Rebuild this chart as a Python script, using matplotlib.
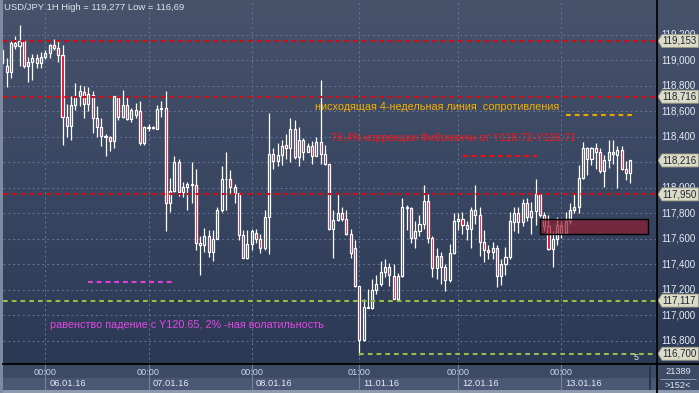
import matplotlib
matplotlib.use("Agg")
import matplotlib.pyplot as plt
import numpy as np
from matplotlib.patches import Rectangle, Polygon
from matplotlib.colors import LinearSegmentedColormap
from matplotlib.lines import Line2D

plt.rcParams['font.family'] = ['Liberation Sans', 'DejaVu Sans']

# ---------------- data ----------------
title_text = "USD/JPY 1H High = 119,277 Low = 116,69"

candle_idx = list(range(-1, 146))
opens = [118.98, 118.96, 118.91, 119.14, 119.11, 119.15, 118.96, 118.99, 119.02, 118.98,
         119.03, 119.06, 119.12, 119.10, 119.04, 118.56, 118.49, 118.65, 118.72, 118.75,
         118.66, 118.73, 118.55, 118.48, 118.41, 118.40, 118.37, 118.72, 118.56, 118.65,
         118.54, 118.57, 118.60, 118.35, 118.48, 118.47, 118.46, 118.62, 118.63, 117.88,
         117.98, 118.20, 117.97, 118.01, 118.02, 118.02, 117.57, 117.55, 117.62, 117.50,
         117.60, 117.83, 118.07, 118.07, 118.01, 117.96, 117.63, 117.45, 117.56, 117.65,
         117.60, 117.53, 117.77, 118.27, 118.21, 118.26, 118.34, 118.31, 118.46, 118.24,
         118.38, 118.28, 118.33, 118.25, 118.36, 118.27, 118.19, 117.68, 117.75, 117.80,
         117.76, 117.64, 117.53, 117.23, 116.81, 117.06, 117.06, 117.20, 117.25, 117.34,
         117.38, 117.31, 117.13, 117.31, 117.84, 117.84, 117.61, 117.66, 117.72, 117.90,
         117.61, 117.37, 117.47, 117.38, 117.28, 117.49, 117.74, 117.76, 117.71, 117.68,
         117.83, 117.79, 117.58, 117.51, 117.50, 117.53, 117.31, 117.40, 117.46, 117.73,
         117.80, 117.73, 117.88, 117.77, 117.82, 117.95, 117.79, 117.70, 117.52, 117.60,
         117.71, 117.65, 117.74, 117.83, 117.85, 118.08, 118.31, 118.23, 118.31, 118.28,
         118.13, 118.22, 118.27, 118.26, 118.30, 118.15, 118.12]
highs = [119.12, 119.02, 119.15, 119.19, 119.277, 119.16, 119.03, 119.05, 119.05, 119.07,
         119.08, 119.13, 119.17, 119.16, 119.12, 118.66, 118.72, 118.82, 118.81, 118.80,
         118.79, 118.76, 118.64, 118.55, 118.42, 118.41, 118.72, 118.72, 118.77, 118.72,
         118.63, 118.67, 118.68, 118.49, 118.50, 118.49, 118.65, 118.68, 118.76, 118.08,
         118.25, 118.23, 118.05, 118.05, 118.20, 118.15, 117.62, 117.69, 117.67, 117.67,
         117.85, 118.17, 118.28, 118.14, 118.03, 117.96, 117.67, 117.67, 117.68, 117.68,
         117.64, 117.83, 118.59, 118.31, 118.35, 118.38, 118.42, 118.55, 118.53, 118.48,
         118.39, 118.35, 118.37, 118.40, 118.85, 118.34, 118.19, 117.83, 117.95, 117.85,
         117.83, 117.68, 117.59, 117.23, 117.13, 117.21, 117.29, 117.32, 117.43, 117.44,
         117.41, 117.40, 117.33, 117.92, 117.87, 117.85, 117.74, 117.79, 118.02, 117.95,
         117.62, 117.53, 117.50, 117.40, 117.56, 117.80, 117.80, 117.81, 117.74, 117.85,
         118.02, 117.85, 117.67, 117.55, 117.58, 117.55, 117.44, 117.54, 117.81, 117.85,
         117.85, 117.91, 117.92, 117.89, 118.07, 117.96, 117.81, 117.79, 117.66, 117.77,
         117.74, 117.81, 117.88, 117.96, 118.18, 118.36, 118.32, 118.32, 118.35, 118.31,
         118.26, 118.38, 118.38, 118.33, 118.33, 118.21, 118.22]
lows = [118.95, 118.79, 118.86, 119.09, 118.96, 118.94, 118.83, 118.85, 118.94, 118.94,
        119.01, 119.02, 119.08, 118.99, 118.34, 118.40, 118.38, 118.61, 118.64, 118.55,
        118.60, 118.43, 118.40, 118.33, 118.25, 118.29, 118.31, 118.53, 118.55, 118.53,
        118.52, 118.55, 118.34, 118.34, 118.45, 118.46, 118.46, 118.56, 117.66, 117.81,
        117.97, 117.94, 117.93, 117.83, 117.88, 117.51, 117.32, 117.50, 117.46, 117.43,
        117.60, 117.81, 117.83, 117.95, 117.88, 117.59, 117.45, 117.44, 117.51, 117.57,
        117.49, 117.51, 117.48, 118.15, 118.17, 118.18, 118.23, 118.20, 118.23, 118.17,
        118.22, 118.28, 118.19, 118.25, 118.19, 118.18, 117.67, 117.45, 117.74, 117.74,
        117.63, 117.45, 117.22, 116.69, 116.80, 117.06, 117.05, 117.17, 117.23, 117.30,
        117.23, 117.13, 117.13, 117.30, 117.67, 117.57, 117.53, 117.62, 117.68, 117.57,
        117.30, 117.29, 117.25, 117.19, 117.26, 117.48, 117.67, 117.64, 117.59, 117.53,
        117.72, 117.47, 117.42, 117.44, 117.44, 117.22, 117.24, 117.32, 117.44, 117.66,
        117.65, 117.70, 117.74, 117.64, 117.71, 117.77, 117.66, 117.51, 117.38, 117.55,
        117.61, 117.64, 117.72, 117.80, 117.80, 118.07, 118.10, 118.18, 118.15, 118.12,
        118.01, 118.16, 118.19, 118.00, 118.14, 118.06, 118.04]
closes = [119.08, 118.91, 119.14, 119.11, 119.15, 118.96, 118.99, 119.02, 118.98, 119.03,
          119.06, 119.12, 119.10, 119.04, 118.56, 118.49, 118.65, 118.72, 118.76, 118.66,
          118.74, 118.55, 118.48, 118.41, 118.40, 118.37, 118.72, 118.56, 118.65, 118.54,
          118.61, 118.61, 118.35, 118.48, 118.47, 118.48, 118.62, 118.63, 117.88, 117.98,
          118.20, 117.97, 118.01, 118.03, 118.03, 117.57, 117.55, 117.62, 117.50, 117.60,
          117.83, 118.07, 118.07, 118.01, 117.96, 117.63, 117.45, 117.56, 117.66, 117.60,
          117.53, 117.77, 118.27, 118.21, 118.26, 118.33, 118.31, 118.46, 118.24, 118.38,
          118.28, 118.33, 118.25, 118.36, 118.27, 118.19, 117.68, 117.75, 117.80, 117.76,
          117.64, 117.49, 117.23, 116.81, 117.07, 117.07, 117.20, 117.25, 117.34, 117.38,
          117.32, 117.13, 117.31, 117.85, 117.85, 117.61, 117.66, 117.72, 117.90, 117.61,
          117.37, 117.47, 117.38, 117.28, 117.49, 117.74, 117.76, 117.71, 117.68, 117.83,
          117.79, 117.58, 117.51, 117.50, 117.53, 117.31, 117.40, 117.46, 117.74, 117.80,
          117.73, 117.88, 117.77, 117.82, 117.95, 117.79, 117.70, 117.52, 117.60, 117.71,
          117.65, 117.74, 117.83, 117.85, 118.08, 118.31, 118.23, 118.31, 118.28, 118.13,
          118.22, 118.28, 118.28, 118.30, 118.15, 118.12, 118.216]

tick_prices = [116.8, 117.0, 117.2, 117.4, 117.6, 117.8, 118.0, 118.2, 118.4, 118.6,
               118.8, 119.0, 119.2]
day_idx = [9, 33, 57, 82, 105, 129]
time_labels = ["00:00", "00:00", "00:00", "01:00", "00:00", "00:00"]
date_labels = ["06.01.16", "07.01.16", "08.01.16", "11.01.16", "12.01.16", "13.01.16"]

red_levels = [119.153, 118.716, 117.950]
green_levels = [117.117, 116.700]
resist_level = 118.573
fib_level = 118.251
equality_level = 117.265
zone_low, zone_high = 117.637, 117.754

txt_resist = "нисходящая 4-недельная линия  сопротивления"
txt_fib = "76,4% коррекции Фибоначчи от Y118.72-Y116.71"
txt_equal = "равенство падение с Y120.65, 2% -ная волатильность"
bars_count = "21389"
bars_shift = ">152<"

# ---------------- layout ----------------
W, H = 699, 393
fig = plt.figure(figsize=(W / 100, H / 100), dpi=100)
fig.patch.set_facecolor('#7e8aa0')

XL = (-0.84, 151.0)
YL = (116.6196, 119.4745)

ax = fig.add_axes([3 / W, 29 / H, 653 / W, 364 / H])
ax.set_xlim(*XL)
ax.set_ylim(*YL)
for s in ax.spines.values():
    s.set_visible(False)
ax.set_xticks([])
ax.set_yticks([])

cmap = LinearSegmentedColormap.from_list('bg', ['#47526b', '#3a4762', '#2b3955'])
grad = np.linspace(0, 1, 256).reshape(-1, 1)
ax.imshow(grad, extent=[XL[0], XL[1], YL[0], YL[1]], aspect='auto', cmap=cmap,
          origin='upper', zorder=0)

grid_kw = dict(color='#66759a', lw=0.7, ls=(0, (2, 3)), zorder=1)
for p in tick_prices:
    ax.axhline(p, **grid_kw)
for d in day_idx:
    ax.axvline(d, **grid_kw)

# candles
x = np.array(candle_idx, dtype=float)
o = np.array(opens); c = np.array(closes); h = np.array(highs); l = np.array(lows)
top = np.maximum(o, c)
bot = np.minimum(o, c)
bull = c >= o
ax.vlines(x, top, h, color='white', lw=0.9, zorder=3)
ax.vlines(x, l, bot, color='white', lw=0.9, zorder=3)
bh = np.maximum(top - bot, 0.004)
ax.bar(x[bull], bh[bull], bottom=bot[bull], width=0.48, facecolor='none',
       edgecolor='white', lw=0.9, zorder=3)
ax.bar(x[~bull], bh[~bull], bottom=bot[~bull], width=0.48, facecolor='#e8002d',
       edgecolor='white', lw=0.9, zorder=3)

# levels
dash = (0, (2.3, 1.9))
for lv in red_levels:
    ax.axhline(lv, color='#c8101a', lw=1.5, ls=dash, zorder=5)
ax.axhline(green_levels[0], color='#8fbf45', lw=1.5, ls=dash, zorder=5)
ax.hlines(green_levels[1], 82, XL[1], color='#8fbf45', lw=1.5, ls=dash, zorder=5)
ax.hlines(resist_level, 130.1, 145.9, color='#e8a800', lw=1.5, ls=dash, zorder=5)
ax.hlines(fib_level, 106.1, 123.4, color='#ee1111', lw=1.5, ls=dash, zorder=5)
ax.hlines(equality_level, 18.9, 38.7, color='#e040e0', lw=1.5, ls=dash, zorder=5)
ax.add_patch(Rectangle((124.0, zone_low), 25.1, zone_high - zone_low,
                       facecolor=(0.55, 0.12, 0.2, 0.7), edgecolor='black', lw=1.0, zorder=6))

def fx(px):
    return px / W

def fy(py):
    return 1 - py / H

ax.text(fx(4), fy(8), title_text, transform=fig.transFigure, color='#dfe5ef',
        fontsize=6.8, va='center', ha='left', zorder=7)
ax.text(fx(315), fy(107.5), txt_resist, transform=fig.transFigure, color='#f5b000',
        fontsize=7.8, va='center', ha='left', zorder=2)
ax.text(fx(331), fy(138), txt_fib, transform=fig.transFigure, color='#ff1414',
        fontsize=7.8, va='center', ha='left', zorder=2)
ax.text(fx(50), fy(325), txt_equal, transform=fig.transFigure, color='#e545e5',
        fontsize=7.8, va='center', ha='left', zorder=2)
ax.text(fx(634), fy(358), "5", transform=fig.transFigure, color='#e8eef8',
        fontsize=6.5, va='center', ha='left', zorder=7)

# price panel
axp = fig.add_axes([657 / W, 29 / H, 42 / W, 364 / H])
axp.set_xlim(0, 42)
axp.set_ylim(*YL)
axp.axis('off')
axp.imshow(grad, extent=[0, 42, YL[0], YL[1]], aspect='auto', cmap=cmap,
           origin='upper', zorder=0)
highlight = red_levels + green_levels + [closes[-1]]
hl = 13 / 127.5
for p in tick_prices:
    # labels fully hidden behind a highlighted price box are not drawn
    if min(abs(p - v) for v in highlight) < 0.03:
        continue
    axp.text(4.5, p, f"{p:.3f}".replace('.', ','), color='#e6ecf5', fontsize=7,
             va='center', ha='left', zorder=2)
for lv in highlight:
    poly = Polygon([(1, lv), (5, lv + hl / 2), (41.5, lv + hl / 2), (41.5, lv - hl / 2),
                    (5, lv - hl / 2)], closed=True, facecolor='#dcdcc6',
                   edgecolor='#9a9a88', lw=0.6, zorder=3)
    axp.add_patch(poly)
    axp.text(5.5, lv, f"{lv:.3f}".replace('.', ','), color='#1c2436', fontsize=7,
             va='center', ha='left', zorder=4)

# time panel
axb = fig.add_axes([3 / W, 0, 653 / W, 29 / H])
axb.set_xlim(*XL)
axb.set_ylim(0, 29)
axb.axis('off')
axb.add_patch(Rectangle((XL[0], 0), XL[1] - XL[0], 29, facecolor='#3d4a64', edgecolor='none'))
axb.add_patch(Rectangle((XL[0], 3), XL[1] - XL[0], 12, facecolor='#4b5874', edgecolor='none'))
axb.add_patch(Rectangle((XL[0], 0), XL[1] - XL[0], 3, facecolor='#8d99ad', edgecolor='none'))
axb.add_patch(Rectangle((149.3, 3), 0.6, 24, facecolor='#2a3548', edgecolor='none'))
for d, t, dl in zip(day_idx, time_labels, date_labels):
    axb.vlines(d, 3, 29, color='#74829c', lw=0.8)
    axb.text(d, 20.5, t, ha='center', va='center', color='#c9d6f2', fontsize=6.6)
    axb.text(d + 0.9, 9, dl, ha='left', va='center', color='#e3e9f3', fontsize=6.7)

# corner panel
axc = fig.add_axes([657 / W, 0, 42 / W, 29 / H])
axc.set_xlim(0, 42)
axc.set_ylim(0, 29)
axc.axis('off')
axc.add_patch(Rectangle((0, 0), 42, 29, facecolor='#3d4a64', edgecolor='none'))
axc.add_patch(Rectangle((0, 0), 42, 3, facecolor='#8d99ad', edgecolor='none'))
axc.hlines(14.5, 3, 39, color='#8d99ad', lw=0.7)
axc.text(21, 21, bars_count, ha='center', va='center', color='#e3e9f3', fontsize=6.7)
axc.text(21, 8, bars_shift, ha='center', va='center', color='#e3e9f3', fontsize=6.7)

# separators
fig.add_artist(Line2D([fx(3), 1], [fy(364), fy(364)], color='black', lw=1.3))
fig.add_artist(Line2D([fx(656.5), fx(656.5)], [0, 1], color='black', lw=1.3))

fig.savefig('out.png', dpi=100, facecolor=fig.get_facecolor())
